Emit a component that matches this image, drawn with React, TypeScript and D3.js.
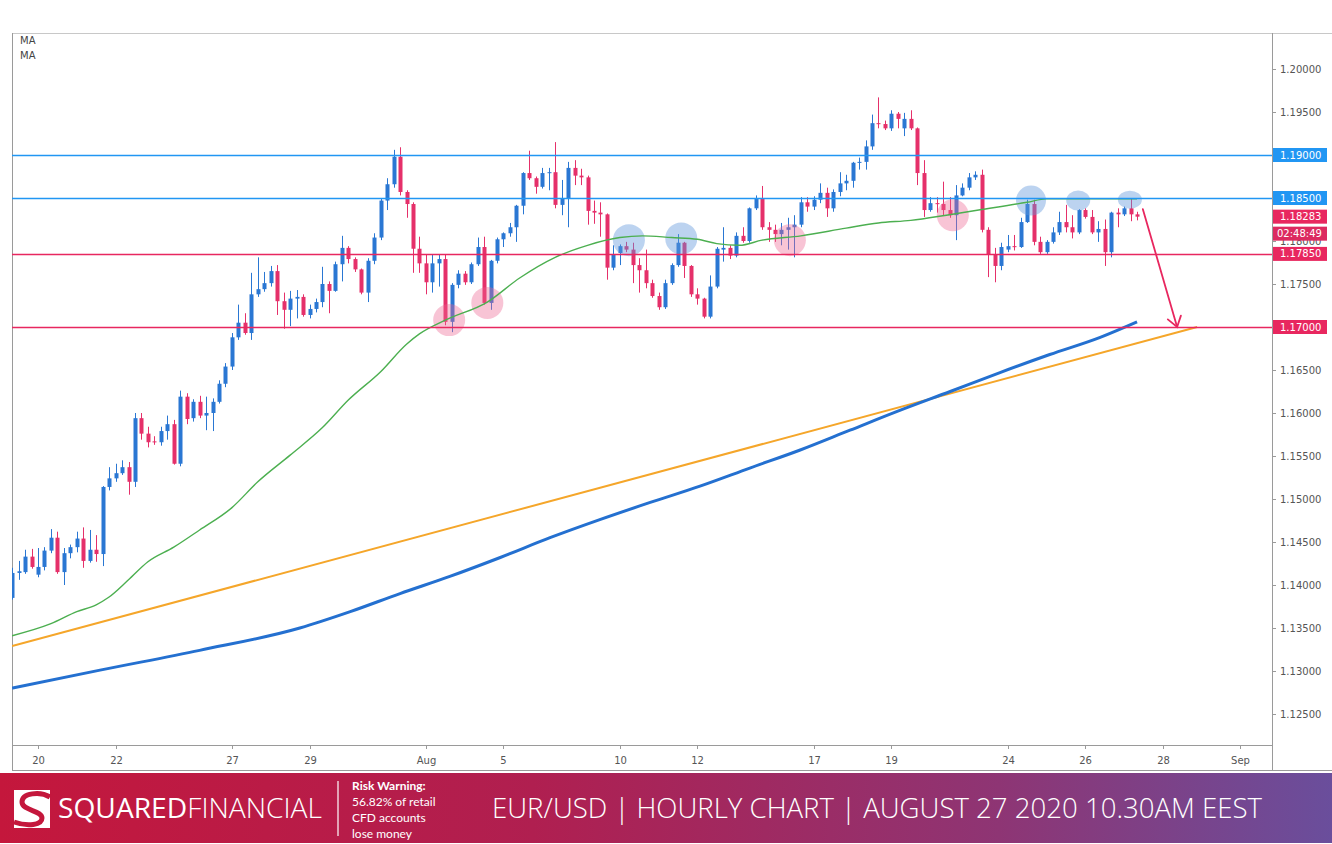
import React from 'react';
import * as d3 from 'd3';

// 4H candles [open, high, low, close]; index 0 = Jul 20 00:00, week0 = last bars of Jul 17
const week0 = [
  [1.1385, 1.1420, 1.1383, 1.1414], [1.1414, 1.1428, 1.1406, 1.1416], [1.1415, 1.1441, 1.1413, 1.1433], [1.1433, 1.1442, 1.1419, 1.1421],
];
const week1 = [
  [1.1412, 1.1443, 1.1409, 1.1421], [1.1421, 1.1444, 1.1417, 1.1440], [1.1440, 1.1465, 1.1437, 1.1455], [1.1455, 1.1462, 1.1413, 1.1415],
  [1.1415, 1.1443, 1.1400, 1.1437], [1.1437, 1.1447, 1.1431, 1.1444], [1.1444, 1.1462, 1.1438, 1.1454], [1.1454, 1.1467, 1.1420, 1.1428],
  [1.1428, 1.1464, 1.1426, 1.1441], [1.1441, 1.1458, 1.1427, 1.1436], [1.1436, 1.1515, 1.1422, 1.1514], [1.1514, 1.1537, 1.1510, 1.1524],
  [1.1524, 1.1541, 1.1520, 1.1530], [1.1530, 1.1545, 1.1528, 1.1537], [1.1537, 1.1543, 1.1505, 1.1520], [1.1520, 1.1600, 1.1514, 1.1594],
  [1.1594, 1.1600, 1.1569, 1.1576], [1.1576, 1.1584, 1.1560, 1.1566], [1.1567, 1.1573, 1.1563, 1.1566], [1.1566, 1.1584, 1.1562, 1.1579],
  [1.1579, 1.1597, 1.1569, 1.1587], [1.1587, 1.1592, 1.1540, 1.1541], [1.1541, 1.1626, 1.1538, 1.1619], [1.1619, 1.1623, 1.1587, 1.1593],
  [1.1594, 1.1616, 1.1590, 1.1613], [1.1613, 1.1620, 1.1594, 1.1597], [1.1597, 1.1619, 1.1580, 1.1600], [1.1600, 1.1617, 1.1579, 1.1613],
  [1.1613, 1.1638, 1.1611, 1.1634], [1.1634, 1.1658, 1.1630, 1.1654],
];
const week2 = [
  [1.1654, 1.1693, 1.1650, 1.1688], [1.1688, 1.1726, 1.1685, 1.1705], [1.1705, 1.1716, 1.1691, 1.1693], [1.1693, 1.1763, 1.1685, 1.1738],
  [1.1738, 1.1781, 1.1735, 1.1744], [1.1744, 1.1764, 1.1741, 1.1751], [1.1751, 1.1771, 1.1747, 1.1765], [1.1765, 1.1772, 1.1714, 1.1730],
  [1.1730, 1.1740, 1.1698, 1.1720], [1.1720, 1.1742, 1.1701, 1.1733], [1.1733, 1.1743, 1.1710, 1.1735], [1.1735, 1.1738, 1.1712, 1.1714],
  [1.1714, 1.1726, 1.1710, 1.1721], [1.1721, 1.1733, 1.1717, 1.1729], [1.1729, 1.1770, 1.1723, 1.1750], [1.1750, 1.1753, 1.1716, 1.1742],
  [1.1742, 1.1776, 1.1741, 1.1773], [1.1773, 1.1806, 1.1753, 1.1792], [1.1792, 1.1794, 1.1774, 1.1779], [1.1779, 1.1781, 1.1764, 1.1767],
  [1.1767, 1.1768, 1.1738, 1.1740], [1.1740, 1.1780, 1.1729, 1.1777], [1.1777, 1.1809, 1.1773, 1.1804], [1.1804, 1.1849, 1.1801, 1.1847],
  [1.1847, 1.1873, 1.1836, 1.1866], [1.1866, 1.1906, 1.1862, 1.1898], [1.1898, 1.1909, 1.1853, 1.1857], [1.1857, 1.1859, 1.1827, 1.1843],
  [1.1843, 1.1845, 1.1763, 1.1791], [1.1791, 1.1805, 1.1763, 1.1774],
];
const week3 = [
  [1.1774, 1.1784, 1.1738, 1.1752], [1.1752, 1.1784, 1.1740, 1.1774], [1.1774, 1.1784, 1.1747, 1.1779], [1.1779, 1.1784, 1.1702, 1.1706],
  [1.1706, 1.1751, 1.1694, 1.1749], [1.1749, 1.1766, 1.1745, 1.1762], [1.1762, 1.1765, 1.1749, 1.1752], [1.1752, 1.1775, 1.1750, 1.1773],
  [1.1773, 1.1804, 1.1771, 1.1793], [1.1793, 1.1805, 1.1726, 1.1728], [1.1728, 1.1778, 1.1720, 1.1777], [1.1777, 1.1804, 1.1774, 1.1802],
  [1.1802, 1.1810, 1.1793, 1.1809], [1.1809, 1.1821, 1.1805, 1.1816], [1.1816, 1.1842, 1.1799, 1.1841], [1.1841, 1.1880, 1.1831, 1.1879],
  [1.1879, 1.1905, 1.1871, 1.1873], [1.1873, 1.1875, 1.1855, 1.1863], [1.1863, 1.1885, 1.1861, 1.1879], [1.1879, 1.1885, 1.1859, 1.1880],
  [1.1880, 1.1915, 1.1838, 1.1842], [1.1842, 1.1871, 1.1830, 1.1850], [1.1850, 1.1892, 1.1816, 1.1885], [1.1885, 1.1894, 1.1865, 1.1876],
  [1.1876, 1.1884, 1.1865, 1.1874], [1.1874, 1.1876, 1.1819, 1.1835], [1.1835, 1.1847, 1.1820, 1.1833], [1.1833, 1.1845, 1.1805, 1.1831],
  [1.1831, 1.1832, 1.1755, 1.1769], [1.1769, 1.1795, 1.1766, 1.1784],
];
const week4 = [
  [1.1786, 1.1796, 1.1772, 1.1794], [1.1794, 1.1799, 1.1787, 1.1790], [1.1790, 1.1798, 1.1751, 1.1772], [1.1772, 1.1780, 1.1740, 1.1766],
  [1.1766, 1.1790, 1.1745, 1.1751], [1.1751, 1.1755, 1.1734, 1.1736], [1.1736, 1.1740, 1.1720, 1.1723], [1.1723, 1.1755, 1.1721, 1.1751],
  [1.1751, 1.1774, 1.1749, 1.1772], [1.1772, 1.1808, 1.1770, 1.1798], [1.1798, 1.1799, 1.1757, 1.1771], [1.1771, 1.1772, 1.1735, 1.1738],
  [1.1738, 1.1745, 1.1726, 1.1733], [1.1733, 1.1734, 1.1710, 1.1712], [1.1712, 1.1760, 1.1710, 1.1747], [1.1747, 1.1793, 1.1745, 1.1791],
  [1.1790, 1.1816, 1.1776, 1.1792], [1.1792, 1.1795, 1.1779, 1.1783], [1.1783, 1.1810, 1.1781, 1.1806], [1.1806, 1.1816, 1.1798, 1.1800],
  [1.1800, 1.1839, 1.1798, 1.1838], [1.1838, 1.1853, 1.1836, 1.1849], [1.1849, 1.1864, 1.1813, 1.1816], [1.1816, 1.1822, 1.1799, 1.1813],
  [1.1813, 1.1819, 1.1799, 1.1808], [1.1808, 1.1821, 1.1795, 1.1813], [1.1813, 1.1827, 1.1790, 1.1816], [1.1816, 1.1830, 1.1781, 1.1819],
  [1.1819, 1.1851, 1.1816, 1.1845], [1.1845, 1.1851, 1.1834, 1.1840],
];
const week5 = [
  [1.1840, 1.1852, 1.1836, 1.1848], [1.1848, 1.1867, 1.1844, 1.1856], [1.1856, 1.1862, 1.1828, 1.1838], [1.1838, 1.1860, 1.1834, 1.1857],
  [1.1857, 1.1880, 1.1852, 1.1867], [1.1867, 1.1877, 1.1859, 1.1870], [1.1870, 1.1892, 1.1862, 1.1891], [1.1891, 1.1897, 1.1883, 1.1892],
  [1.1892, 1.1917, 1.1883, 1.1910], [1.1910, 1.1947, 1.1906, 1.1937], [1.1937, 1.1967, 1.1931, 1.1936], [1.1936, 1.1940, 1.1929, 1.1931],
  [1.1931, 1.1952, 1.1928, 1.1948], [1.1948, 1.1950, 1.1931, 1.1942], [1.1931, 1.1949, 1.1922, 1.1942], [1.1942, 1.1952, 1.1929, 1.1931],
  [1.1931, 1.1932, 1.1865, 1.1879], [1.1879, 1.1894, 1.1828, 1.1836], [1.1836, 1.1851, 1.1834, 1.1844], [1.1844, 1.1851, 1.1833, 1.1843],
  [1.1843, 1.1869, 1.1830, 1.1836], [1.1836, 1.1851, 1.1827, 1.1830], [1.1830, 1.1865, 1.1801, 1.1853], [1.1853, 1.1867, 1.1852, 1.1862],
  [1.1862, 1.1879, 1.1859, 1.1874], [1.1874, 1.1881, 1.1871, 1.1877], [1.1877, 1.1883, 1.1810, 1.1813], [1.1813, 1.1816, 1.1758, 1.1784],
  [1.1784, 1.1792, 1.1752, 1.1771], [1.1771, 1.1798, 1.1766, 1.1793],
];
const week6 = [
  [1.1790, 1.1807, 1.1787, 1.1794], [1.1794, 1.1807, 1.1789, 1.1793], [1.1793, 1.1827, 1.1792, 1.1822], [1.1822, 1.1848, 1.1821, 1.1843],
  [1.1843, 1.1848, 1.1795, 1.1799], [1.1799, 1.1805, 1.1785, 1.1787], [1.1787, 1.1801, 1.1785, 1.1799], [1.1799, 1.1816, 1.1797, 1.1810],
  [1.1810, 1.1834, 1.1807, 1.1822], [1.1822, 1.1842, 1.1810, 1.1816], [1.1816, 1.1830, 1.1803, 1.1810], [1.1810, 1.1837, 1.1808, 1.1836],
  [1.1836, 1.1838, 1.1826, 1.1828], [1.1828, 1.1836, 1.1808, 1.1810], [1.1810, 1.1823, 1.1799, 1.1814], [1.1814, 1.1825, 1.1771, 1.1787],
  [1.1787, 1.1834, 1.1781, 1.1833], [1.1833, 1.1838, 1.1816, 1.1831], [1.1831, 1.1840, 1.1829, 1.1838], [1.1838, 1.1849, 1.1823, 1.1831],
  [1.1831, 1.1834, 1.1824, 1.18283],
];
const firstBarIndex = -4;

// Moving averages (bar index, price)
const greenMaIdx = [-4, 2, 6, 9, 11, 14, 17, 21, 25, 30, 34, 39, 44, 48, 53, 57, 59, 63, 69.5, 74.5, 80, 85, 90, 93.5, 98, 102, 105, 108.5, 112, 118, 125, 130, 135, 140.5, 145.5, 153, 156, 163, 170];
const greenMaVal = [1.1341, 1.1355, 1.1369, 1.1377, 1.1386, 1.1406, 1.1427, 1.1444, 1.1464, 1.1490, 1.1520, 1.1551, 1.1583, 1.1615, 1.1648, 1.1680, 1.1692, 1.1708, 1.1729, 1.1757, 1.1781, 1.1795, 1.1804, 1.1806, 1.1804, 1.1802, 1.1797, 1.1795, 1.1801, 1.1806, 1.1815, 1.1821, 1.1824, 1.1830, 1.1836, 1.1845, 1.1849, 1.1849, 1.1849];
const blueMaIdx = [-4, 9.6, 25, 40.5, 48.3, 56, 63.7, 71.5, 79.2, 86.9, 94.7, 102.4, 110.1, 117.9, 125.6, 133.3, 141.1, 148.8, 156.5, 164.3, 170];
const blueMaVal = [1.1280, 1.1301, 1.1324, 1.1350, 1.1369, 1.1390, 1.1410, 1.1432, 1.1455, 1.1476, 1.1496, 1.1515, 1.1536, 1.1557, 1.1580, 1.1603, 1.1625, 1.1647, 1.1668, 1.1688, 1.1706];

// Trend line and arrow
const trendIdx = [-4, 179.3];
const trendVal = [1.1329, 1.1700];
const arrowIdx = [170.9, 176.2];
const arrowVal = [1.1837, 1.1700];

// Horizontal levels
const levelPrices = [1.19, 1.185, 1.1785, 1.17];
const levelLabels = ['1.19000', '1.18500', '1.17850', '1.17000'];
const levelIsBlue = [true, true, false, false];
const lastPrice = 1.18283;
const lastPriceLabel = '1.18283';
const countdownLabel = '02:48:49';

const priceTicks = [1.125, 1.13, 1.135, 1.14, 1.145, 1.15, 1.155, 1.16, 1.165, 1.17, 1.175, 1.18, 1.185, 1.19, 1.195, 1.2];
const dayLabels = ['20', '22', '27', '29', 'Aug', '5', '10', '12', '17', '19', '24', '26', '28', 'Sep'];
const dayTradingIndex = [0, 2, 5, 7, 10, 12, 15, 17, 20, 22, 25, 27, 29, 31];
const barsPerDay = 6;

// Annotation markers: [barIndex, price, rx, ry]
const pinkMarks = [[63.6, 1.1708, 16, 16], [69.5, 1.1728, 16, 16], [116.3, 1.1801, 16, 16], [141.5, 1.1830, 16, 16]];
const blueMarks = [[91.4, 1.1801, 16, 16], [99.5, 1.1803, 16, 16], [153.6, 1.1847, 15, 15], [160.9, 1.1847, 12, 10], [168.9, 1.1848, 12, 9]];

const BLUE_UP = '#2a77d3';
const PINK_DN = '#e5306a';
const LEVEL_BLUE = '#2196f3';
const LEVEL_RED = '#e8275f';
const AXIS_GREY = '#9a9a9a';
const TEXT_GREY = '#555';

export default function App() {
  const W = 1332, H = 844;
  const left = 12, right = 1272, top = 33, plotBottom = 745, frameBottom = 770;
  const x = d3.scaleLinear().domain([0, 174]).range([38, 1162.9]);
  const y = d3.scaleLinear().domain([1.17, 1.19]).range([327, 155]);

  const candles = [...week0, ...week1, ...week2, ...week3, ...week4, ...week5, ...week6].map((c, k) => ({
    i: k + firstBarIndex, o: c[0], h: c[1], l: c[2], c: c[3],
  }));

  const line = d3.line<[number, number]>().x(d => x(d[0])).y(d => y(d[1])).curve(d3.curveMonotoneX);
  const greenPath = line(greenMaIdx.map((v, k) => [v, greenMaVal[k]] as [number, number])) || '';
  const bluePath = line(blueMaIdx.map((v, k) => [v, blueMaVal[k]] as [number, number])) || '';

  const ax0 = x(arrowIdx[0]), ay0 = y(arrowVal[0]), ax1 = x(arrowIdx[1]), ay1 = y(arrowVal[1]);
  const ang = Math.atan2(ay1 - ay0, ax1 - ax0);
  const headLen = 12, headAng = Math.PI / 5.2;
  const h1 = [ax1 - headLen * Math.cos(ang - headAng), ay1 - headLen * Math.sin(ang - headAng)];
  const h2 = [ax1 - headLen * Math.cos(ang + headAng), ay1 - headLen * Math.sin(ang + headAng)];

  const boxX = right + 1, boxW = 54, boxH = 14;
  const font = 'Tahoma, "DejaVu Sans", Verdana, sans-serif';

  return (
    <svg width={W} height={H} viewBox={`0 0 ${W} ${H}`} style={{ position: 'absolute', left: 0, top: 0, background: '#fff' }}>
      <defs>
        <linearGradient id="footerGrad" x1="0" x2="1" y1="0" y2="0">
          <stop offset="0%" stopColor="#c4173c" />
          <stop offset="40%" stopColor="#b01f50" />
          <stop offset="75%" stopColor="#8e3574" />
          <stop offset="100%" stopColor="#6a4e9c" />
        </linearGradient>
        <clipPath id="plotClip">
          <rect x={left} y={top} width={right - left} height={plotBottom - top} />
        </clipPath>
      </defs>
      <rect x={0} y={0} width={W} height={H} fill="#fff" />

      {/* Frame */}
      <g stroke={AXIS_GREY} strokeWidth={1} shapeRendering="crispEdges">
        <line x1={left} x2={W} y1={top} y2={top} stroke="#c8c8c8" />
        <line x1={left} x2={left} y1={top} y2={frameBottom} />
        <line x1={right} x2={right} y1={top} y2={frameBottom} />
        <line x1={left} x2={right} y1={plotBottom} y2={plotBottom} />
        <line x1={left} x2={W} y1={frameBottom} y2={frameBottom} />
      </g>

      {/* MA labels */}
      <text x={20} y={44} fontFamily={font} fontSize={10} fill="#444">MA</text>
      <text x={20} y={59} fontFamily={font} fontSize={10} fill="#444">MA</text>

      <g clipPath="url(#plotClip)">
        {/* Candles */}
        {candles.map(d => {
          const cx = Math.round(x(d.i)) + 0.5;
          const up = d.c >= d.o;
          const col = up ? BLUE_UP : PINK_DN;
          const yt = y(Math.max(d.o, d.c)), yb = y(Math.min(d.o, d.c));
          return (
            <g key={d.i}>
              <line x1={cx} x2={cx} y1={y(d.h)} y2={y(d.l)} stroke={col} strokeWidth={1} />
              <rect x={cx - 2} y={yt} width={4} height={Math.max(1, yb - yt)} fill={col} />
            </g>
          );
        })}

        {/* Markers */}
        {pinkMarks.map((m, k) => (
          <ellipse key={'p' + k} cx={x(m[0])} cy={y(m[1])} rx={m[2]} ry={m[3]} fill="rgba(236,100,145,0.38)" />
        ))}
        {blueMarks.map((m, k) => (
          <ellipse key={'b' + k} cx={x(m[0])} cy={y(m[1])} rx={m[2]} ry={m[3]} fill="rgba(95,150,220,0.42)" />
        ))}

        {/* Trend line */}
        <line x1={x(trendIdx[0])} y1={y(trendVal[0])} x2={x(trendIdx[1])} y2={y(trendVal[1])} stroke="#f5a62a" strokeWidth={2} />
        {/* MAs */}
        <path d={bluePath} fill="none" stroke="#2470d0" strokeWidth={3} />
        <path d={greenPath} fill="none" stroke="#4caf50" strokeWidth={1.4} />

        {/* Levels */}
        {levelPrices.map((p, k) => (
          <line key={'l' + k} x1={left} x2={right} y1={Math.round(y(p)) + 0.5} y2={Math.round(y(p)) + 0.5}
            stroke={levelIsBlue[k] ? LEVEL_BLUE : LEVEL_RED} strokeWidth={1.3} />
        ))}

        {/* Arrow */}
        <g stroke={LEVEL_RED} strokeWidth={1.8} fill="none" strokeLinecap="round">
          <line x1={ax0} y1={ay0} x2={ax1} y2={ay1} />
          <polyline points={`${h1[0]},${h1[1]} ${ax1},${ay1} ${h2[0]},${h2[1]}`} />
        </g>
      </g>

      {/* Price axis */}
      {priceTicks.map(p => (
        <g key={'t' + p}>
          <line x1={right} x2={right + 4} y1={Math.round(y(p)) + 0.5} y2={Math.round(y(p)) + 0.5} stroke={AXIS_GREY} />
          <text x={right + 8} y={y(p)} dy="0.35em" fontFamily={font} fontSize={10} fill={TEXT_GREY}>{p.toFixed(5)}</text>
        </g>
      ))}

      {/* Level labels */}
      {levelPrices.map((p, k) => (
        <g key={'lb' + k}>
          <rect x={boxX} y={y(p) - boxH / 2} width={boxW} height={boxH} fill={levelIsBlue[k] ? LEVEL_BLUE : LEVEL_RED} />
          <text x={right + 8} y={y(p)} dy="0.35em" fontFamily={font} fontSize={10} fill="#fff">{levelLabels[k]}</text>
        </g>
      ))}
      <rect x={boxX} y={y(lastPrice) - boxH / 2} width={boxW} height={boxH} fill={LEVEL_RED} />
      <text x={right + 8} y={y(lastPrice)} dy="0.35em" fontFamily={font} fontSize={10} fill="#fff">{lastPriceLabel}</text>
      <rect x={boxX} y={y(lastPrice) + boxH / 2 + 3} width={boxW} height={boxH} fill="#dc2a60" />
      <text x={right + 5} y={y(lastPrice) + boxH + 3} dy="0.35em" fontFamily={font} fontSize={10} fill="#fff">{countdownLabel}</text>

      {/* Date axis */}
      {dayLabels.map((lab, k) => {
        const px = Math.round(x(dayTradingIndex[k] * barsPerDay)) + 0.5;
        return (
          <g key={'d' + k}>
            <line x1={px} x2={px} y1={plotBottom} y2={plotBottom + 4} stroke={AXIS_GREY} />
            <text x={px} y={760} dy="0.35em" textAnchor="middle" fontFamily={font} fontSize={10} fill={TEXT_GREY}>{lab}</text>
          </g>
        );
      })}

      {/* Footer */}
      <rect x={0} y={773} width={W} height={70} fill="url(#footerGrad)" />
      <g>
        <rect x={14} y={790} width={36} height={38} fill="#fff" />
        <path d="M 50 797 C 40 791, 22 793, 22 802 C 22 811, 42 810, 42 818 C 42 825, 28 827, 14 822" fill="none" stroke="#c4173c" strokeWidth={5} />
      </g>
      <text x={58} y={818} fontFamily='"Open Sans", sans-serif' fontSize={27} fill="#fff" textLength={264} lengthAdjust="spacingAndGlyphs">
        <tspan fontWeight={500}>SQUARED</tspan><tspan fontWeight={300}>FINANCIAL</tspan>
      </text>
      <line x1={338} x2={338} y1={781} y2={836} stroke="#fff" strokeWidth={1.2} />
      <g fontFamily='Lato, "Open Sans", sans-serif' fontSize={12} fill="#fff">
        <text x={352} y={790} fontWeight={700}>Risk Warning:</text>
        <text x={352} y={806}>56.82% of retail</text>
        <text x={352} y={822}>CFD accounts</text>
        <text x={352} y={838}>lose money</text>
      </g>
      <text x={492} y={818} fontFamily='"Open Sans", sans-serif' fontWeight={300} fontSize={28} fill="#fff" textLength={770} lengthAdjust="spacingAndGlyphs">
        EUR/USD | HOURLY CHART | AUGUST 27 2020 10.30AM EEST
      </text>
    </svg>
  );
}
